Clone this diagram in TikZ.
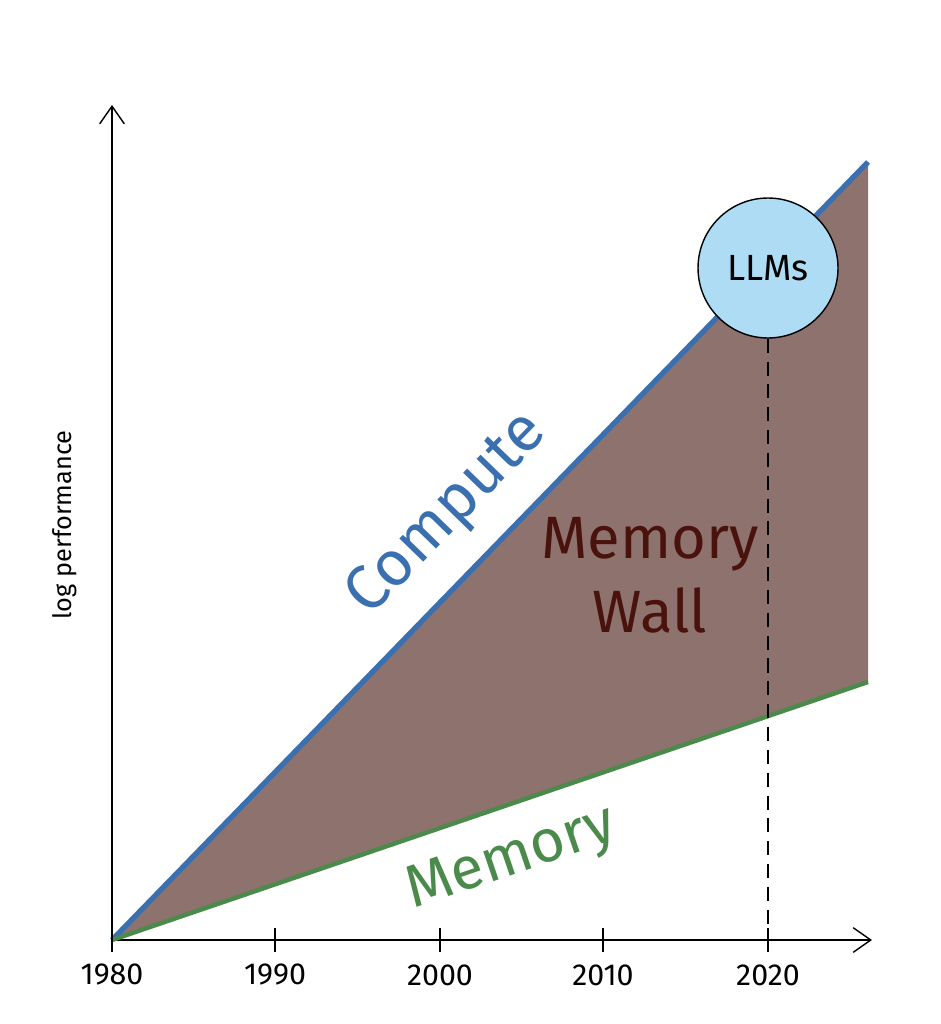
\documentclass[tikz,border=0pt]{standalone}
\usepackage{fontspec}
\setmainfont{Fira Sans}
\usetikzlibrary{arrows.meta,positioning}
\definecolor{wallfill}{HTML}{8E726E}
\definecolor{computeblue}{HTML}{3A6FB0}
\definecolor{memgreen}{HTML}{4A8A4A}
\definecolor{llmblue}{HTML}{AEDCF5}
\definecolor{walltext}{HTML}{4A120C}
\begin{document}
\begin{tikzpicture}[x=0.02cm,y=-0.02cm]
    \useasboundingbox (0,0) rectangle (940,1024);
    \tikzset{axis/.style={thick, -{Straight Barb[length=10pt,width=14pt]}},
             tick/.style={thick},
             year/.style={font=\LARGE}}
    % Axes
    \coordinate (O) at (112,940);
    \draw[axis] (O) -- (112,105) coordinate (ytop);
    \draw[axis] (O) -- (872,940) coordinate (xend);
    \node[rotate=90, font=\Large] (ylab) at (65,525) {log performance};

    % Memory wall region
    \fill[wallfill] (O) -- (868,162) -- (868,682) -- cycle;

    % Compute and memory lines
    \draw[computeblue, line width=3pt] (O) -- (868,162) coordinate (cend);
    \draw[memgreen, line width=2.5pt] (O) -- (868,682) coordinate (mend);

    % Years
    \foreach \x/\yr in {112/1980, 275/1990, 440/2000, 603/2010, 768/2020} {
        \draw[tick] (\x,928) -- (\x,952);
        \node[year] (y\yr) at (\x,975) {\yr};
    }

    % LLMs marker
    \node[circle, draw=black, thick, fill=llmblue, minimum size=2.8cm,
          font=\huge] (llm) at (768,268) {LLMs};
    \draw[thick, dash pattern=on 8pt off 5pt] (llm.south) -- (768,940);

    % Labels
    \node[computeblue, rotate=45.8, font=\fontsize{36}{40}\selectfont] (comp) at (448,515) {Compute};
    \node[memgreen, rotate=18.8, font=\fontsize{34}{38}\selectfont] (mem) at (512,860) {Memory};
    \node[walltext, align=center, font=\fontsize{34}{42}\selectfont] (wall) at (650,575) {Memory\\Wall};
\end{tikzpicture}
\end{document}
